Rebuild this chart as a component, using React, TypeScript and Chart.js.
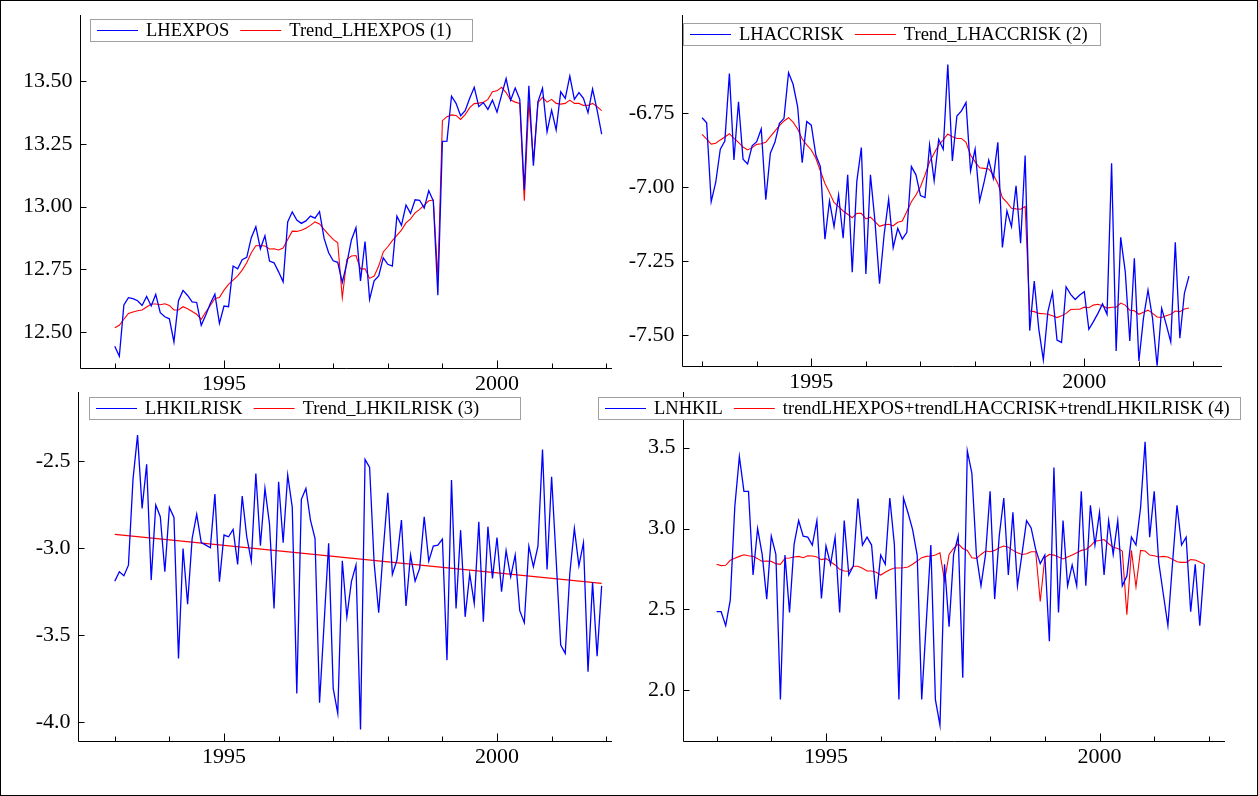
import React, { useEffect, useRef } from "react";
import { Chart, registerables } from "chart.js";
Chart.register(...registerables);

const W = 1258;
const H = 796;
const FONT = '"Liberation Serif", "Times New Roman", serif';
const BLUE = "#0000ff";
const RED = "#ff0000";

// monthly observations 1993:1 .. 2001:12
const months: number[] = Array.from({ length: 108 }, (_, i) => 1993 + i / 12);
const xTickYears = [1993, 1994, 1995, 1996, 1997, 1998, 1999, 2000, 2001, 2002];
const xLabelYears = [1995, 2000];

const lhexpos = [
  12.444, 12.404, 12.608, 12.637, 12.633, 12.625, 12.606, 12.642, 12.604, 12.65, 12.577, 12.561,
  12.553, 12.461, 12.625, 12.666, 12.646, 12.62, 12.618, 12.527, 12.568, 12.614, 12.651, 12.535,
  12.604, 12.601, 12.763, 12.752, 12.788, 12.798, 12.876, 12.92, 12.832, 12.884, 12.783, 12.776,
  12.74, 12.7, 12.939, 12.979, 12.946, 12.933, 12.943, 12.962, 12.954, 12.98, 12.873, 12.816,
  12.784, 12.778, 12.698, 12.774, 12.867, 12.916, 12.704, 12.861, 12.63, 12.704, 12.724, 12.796,
  12.77, 12.763, 12.962, 12.925, 13.006, 12.973, 13.027, 13.025, 12.994, 13.063, 13.023, 12.647,
  13.26, 13.261, 13.44, 13.411, 13.362, 13.382, 13.431, 13.475, 13.398, 13.414, 13.387, 13.424,
  13.376, 13.444, 13.51, 13.424, 13.472, 13.427, 13.066, 13.481, 13.163, 13.418, 13.471, 13.298,
  13.384, 13.305, 13.457, 13.431, 13.52, 13.427, 13.454, 13.431, 13.374, 13.468, 13.384, 13.289,
];
const trendLhexpos = [
  12.517, 12.527, 12.551, 12.574, 12.58, 12.585, 12.588, 12.6, 12.612, 12.612, 12.609, 12.613,
  12.606, 12.588, 12.588, 12.601, 12.593, 12.582, 12.571, 12.551, 12.58, 12.606, 12.634, 12.638,
  12.667, 12.69, 12.707, 12.724, 12.747, 12.776, 12.816, 12.844, 12.845, 12.843, 12.831, 12.832,
  12.827, 12.835, 12.869, 12.902, 12.901, 12.906, 12.914, 12.925, 12.939, 12.931, 12.909, 12.888,
  12.869, 12.856, 12.637, 12.79, 12.803, 12.805, 12.752, 12.752, 12.714, 12.723, 12.763, 12.819,
  12.84, 12.864, 12.885, 12.906, 12.935, 12.951, 12.975, 12.989, 13.006, 13.023, 13.026, 12.717,
  13.342, 13.358, 13.365, 13.363, 13.347, 13.366, 13.394, 13.41, 13.412, 13.415, 13.427, 13.457,
  13.461, 13.475, 13.454, 13.424, 13.416, 13.411, 13.023, 13.418, 13.18, 13.414, 13.435, 13.416,
  13.427, 13.411, 13.408, 13.411, 13.424, 13.411, 13.411, 13.403, 13.403, 13.411, 13.398, 13.382,
];
const lhaccrisk = [
  -6.766, -6.783, -7.05, -6.984, -6.872, -6.845, -6.617, -6.909, -6.712, -6.906, -6.922, -6.861,
  -6.847, -6.804, -7.043, -6.886, -6.849, -6.785, -6.768, -6.614, -6.653, -6.729, -6.918, -6.779,
  -6.791, -6.892, -6.931, -7.176, -7.047, -7.134, -7.027, -7.173, -6.959, -7.288, -6.982, -6.867,
  -7.294, -6.959, -7.117, -7.327, -7.162, -7.041, -7.205, -7.14, -7.176, -7.153, -6.931, -6.959,
  -7.029, -7.036, -6.858, -6.979, -6.839, -6.873, -6.586, -6.912, -6.76, -6.743, -6.715, -6.946,
  -6.872, -7.047, -6.982, -6.909, -6.971, -6.849, -7.204, -7.081, -7.134, -6.996, -7.19, -6.894,
  -7.485, -7.318, -7.48, -7.584, -7.421, -7.356, -7.517, -7.525, -7.337, -7.363, -7.38, -7.365,
  -7.354, -7.481, -7.455, -7.427, -7.395, -7.43, -6.92, -7.554, -7.17, -7.286, -7.52, -7.241,
  -7.588, -7.444, -7.348, -7.444, -7.604, -7.41, -7.464, -7.523, -7.187, -7.511, -7.359, -7.301,
];
const trendLhaccrisk = [
  -6.822, -6.838, -6.855, -6.852, -6.841, -6.831, -6.82, -6.836, -6.849, -6.865, -6.875, -6.867,
  -6.856, -6.854, -6.849, -6.83, -6.811, -6.793, -6.777, -6.766, -6.781, -6.804, -6.838, -6.858,
  -6.875, -6.903, -6.946, -6.988, -7.019, -7.052, -7.066, -7.081, -7.092, -7.104, -7.089, -7.089,
  -7.108, -7.102, -7.117, -7.133, -7.128, -7.126, -7.131, -7.119, -7.115, -7.083, -7.05, -7.027,
  -6.999, -6.959, -6.915, -6.886, -6.858, -6.841, -6.821, -6.83, -6.836, -6.836, -6.849, -6.892,
  -6.915, -6.935, -6.937, -6.939, -6.959, -6.988, -7.036, -7.052, -7.072, -7.074, -7.075, -7.066,
  -7.419, -7.421, -7.427, -7.428, -7.43, -7.435, -7.441, -7.435, -7.427, -7.414, -7.413, -7.413,
  -7.406, -7.408, -7.399, -7.396, -7.401, -7.409, -7.406, -7.406, -7.392, -7.399, -7.416, -7.418,
  -7.43, -7.423, -7.416, -7.427, -7.439, -7.441, -7.435, -7.43, -7.419, -7.421, -7.412, -7.409,
];
const lhkilrisk = [
  -3.19, -3.136, -3.159, -3.098, -2.605, -2.351, -2.772, -2.519, -3.184, -2.753, -2.82, -3.136,
  -2.766, -2.824, -3.634, -3.002, -3.322, -2.944, -2.806, -2.969, -2.983, -2.998, -2.69, -3.193,
  -2.925, -2.935, -2.893, -3.094, -2.701, -2.935, -3.075, -2.571, -2.987, -2.657, -2.862, -3.347,
  -2.619, -2.969, -2.58, -2.766, -3.835, -2.72, -2.657, -2.839, -2.944, -3.889, -3.433, -2.973,
  -3.806, -3.95, -3.073, -3.395, -3.193, -3.098, -4.042, -2.49, -2.536, -3.088, -3.372, -3.011,
  -2.682, -3.151, -3.069, -2.839, -3.333, -3.04, -3.19, -3.117, -2.82, -3.075, -2.989, -2.983,
  -2.948, -3.644, -2.609, -3.347, -2.897, -3.395, -3.149, -3.318, -2.849, -3.423, -2.877, -3.174,
  -2.939, -3.251, -3.015, -3.165, -3.04, -3.36, -3.429, -2.989, -3.107, -2.989, -2.433, -3.123,
  -2.59, -3.069, -3.557, -3.605, -3.146, -2.887, -3.102, -2.969, -3.711, -3.197, -3.621, -3.217,
];
// linear trend: first and last observation
const trendLhkilriskEnds = [-2.921, -3.203];
const lnhkil = [
  2.486, 2.486, 2.4, 2.558, 3.137, 3.445, 3.23, 3.23, 2.713, 3.0, 2.84, 2.564,
  2.953, 2.84, 1.943, 2.836, 2.482, 2.902, 3.049, 2.953, 2.947, 2.898, 3.049, 2.568,
  2.892, 2.779, 2.947, 2.482, 3.049, 2.713, 2.769, 3.185, 2.898, 2.947, 2.898, 2.564,
  2.836, 2.779, 3.189, 2.902, 1.943, 3.189, 3.096, 2.994, 2.836, 1.943, 2.42, 2.898,
  1.943, 1.785, 2.779, 2.394, 2.84, 2.953, 2.078, 3.48, 3.342, 2.836, 2.646, 2.84,
  3.23, 2.564, 2.953, 3.189, 2.713, 3.1, 2.646, 2.844, 3.049, 3.004, 2.871, 2.783,
  2.836, 2.303, 3.377, 2.482, 3.049, 2.646, 2.775, 2.646, 3.23, 2.646, 3.144, 2.898,
  3.1, 2.713, 3.049, 2.84, 3.049, 2.646, 2.707, 2.947, 2.898, 3.127, 3.537, 2.947,
  3.23, 2.789, 2.594, 2.4, 2.779, 3.144, 2.898, 2.947, 2.486, 2.779, 2.4, 2.779,
];
const trendSum = [
  2.779, 2.771, 2.773, 2.804, 2.816, 2.828, 2.838, 2.832, 2.828, 2.814, 2.797, 2.799,
  2.797, 2.783, 2.779, 2.816, 2.818, 2.824, 2.828, 2.82, 2.832, 2.83, 2.824, 2.808,
  2.814, 2.795, 2.775, 2.748, 2.738, 2.736, 2.767, 2.767, 2.754, 2.738, 2.738, 2.73,
  2.713, 2.73, 2.746, 2.756, 2.756, 2.758, 2.762, 2.779, 2.799, 2.82, 2.828, 2.83,
  2.836, 2.85, 2.676, 2.84, 2.877, 2.906, 2.877, 2.865, 2.82, 2.816, 2.84, 2.861,
  2.857, 2.865, 2.881, 2.892, 2.885, 2.865, 2.85, 2.84, 2.844, 2.857, 2.857, 2.549,
  2.82, 2.84, 2.836, 2.824, 2.812, 2.824, 2.836, 2.85, 2.865, 2.871, 2.892, 2.922,
  2.926, 2.932, 2.906, 2.885, 2.877, 2.861, 2.467, 2.865, 2.64, 2.865, 2.861, 2.836,
  2.832, 2.824, 2.828, 2.824, 2.81, 2.795, 2.791, 2.791, 2.808, 2.806, 2.793, 2.779,
];

const yTicks1 = [12.5, 12.75, 13.0, 13.25, 13.5];
const yTicks2 = [-7.5, -7.25, -7.0, -6.75];
const yTicks3 = [-4.0, -3.5, -3.0, -2.5];
const yTicks4 = [2.0, 2.5, 3.0, 3.5];

const monthly = (vals: number[]) => vals.map((v, i) => ({ x: months[i], y: v }));

type Series = { label: string; color: string; width: number; points: { x: number; y: number }[] };
type Panel = {
  area: [number, number, number, number];
  xr: [number, number];
  yr: [number, number];
  yTicks: number[];
  dec: number;
  legendBox: [number, number, number];
  series: Series[];
};

const panels: Panel[] = [
  {
    area: [80, 15, 612, 368],
    xr: [1992.363, 2002.106],
    yr: [12.357, 13.763],
    yTicks: yTicks1,
    dec: 2,
    legendBox: [90, 19, 382],
    series: [
      { label: "LHEXPOS", color: BLUE, width: 1.3, points: monthly(lhexpos) },
      { label: "Trend_LHEXPOS (1)", color: RED, width: 1.1, points: monthly(trendLhexpos) },
    ],
  },
  {
    area: [682, 15, 1222, 366],
    xr: [1992.632, 2002.522],
    yr: [-7.6047, -6.419],
    yTicks: yTicks2,
    dec: 2,
    legendBox: [683, 23, 417],
    series: [
      { label: "LHACCRISK", color: BLUE, width: 1.3, points: monthly(lhaccrisk) },
      { label: "Trend_LHACCRISK (2)", color: RED, width: 1.1, points: monthly(trendLhaccrisk) },
    ],
  },
  {
    area: [78, 392, 612, 741],
    xr: [1992.326, 2002.106],
    yr: [-4.1087, -2.103],
    yTicks: yTicks3,
    dec: 1,
    legendBox: [89, 397, 431],
    series: [
      { label: "LHKILRISK", color: BLUE, width: 1.3, points: monthly(lhkilrisk) },
      {
        label: "Trend_LHKILRISK (3)",
        color: RED,
        width: 1.1,
        points: [
          { x: months[0], y: trendLhkilriskEnds[0] },
          { x: months[months.length - 1], y: trendLhkilriskEnds[1] },
        ],
      },
    ],
  },
  {
    area: [683, 392, 1225, 741],
    xr: [1992.386, 2002.294],
    yr: [1.6869, 3.844],
    yTicks: yTicks4,
    dec: 1,
    legendBox: [598, 397, 642],
    series: [
      { label: "LNHKIL", color: BLUE, width: 1.3, points: monthly(lnhkil) },
      {
        label: "trendLHEXPOS+trendLHACCRISK+trendLHKILRISK (4)",
        color: RED,
        width: 1.1,
        points: monthly(trendSum),
      },
    ],
  },
];

const oxPlugin = {
  id: "ox",
  beforeDatasetsDraw(chart: any, _args: any, opts: any) {
    const { ctx, chartArea: a } = chart;
    const xs = chart.scales.x;
    const ys = chart.scales.y;
    ctx.save();
    ctx.strokeStyle = "#000";
    ctx.lineWidth = 1;
    const L = Math.round(a.left) + 0.5;
    const B = Math.round(a.bottom) + 0.5;
    ctx.beginPath();
    ctx.moveTo(L, Math.round(a.top));
    ctx.lineTo(L, B);
    ctx.lineTo(Math.round(a.right), B);
    ctx.stroke();
    ctx.beginPath();
    for (const yr of xTickYears) {
      const px = Math.round(xs.getPixelForValue(yr)) + 0.5;
      const len = xLabelYears.includes(yr) ? 8 : 5;
      ctx.moveTo(px, B);
      ctx.lineTo(px, B - len);
    }
    for (const v of opts.yTicks) {
      const py = Math.round(ys.getPixelForValue(v)) + 0.5;
      ctx.moveTo(L, py);
      ctx.lineTo(L + 6, py);
    }
    ctx.stroke();
    ctx.fillStyle = "#000";
    ctx.font = `22px ${FONT}`;
    ctx.textAlign = "center";
    ctx.textBaseline = "top";
    for (const yr of xLabelYears) {
      ctx.fillText(String(yr), xs.getPixelForValue(yr), B + 5);
    }
    ctx.textAlign = "right";
    ctx.textBaseline = "middle";
    for (const v of opts.yTicks) {
      ctx.fillText(v.toFixed(opts.dec), L - 8, ys.getPixelForValue(v));
    }
    ctx.restore();
  },
  afterDraw(chart: any, _args: any, opts: any) {
    const { ctx } = chart;
    const [lx, ly, w] = opts.legendBox;
    const h = 22;
    ctx.save();
    ctx.font = `18.5px ${FONT}`;
    let x = lx + 7;
    const items: { text: string; color: string; x0: number; tx: number }[] = [];
    for (const s of opts.series) {
      const x0 = x;
      const tx = x0 + 41 + 8;
      items.push({ text: s.label, color: s.color, x0, tx });
      x = tx + ctx.measureText(s.label).width + 11;
    }
    ctx.fillStyle = "#fff";
    ctx.fillRect(lx, ly, w, h);
    ctx.strokeStyle = "#a0a0a0";
    ctx.lineWidth = 1;
    ctx.strokeRect(lx + 0.5, ly + 0.5, w, h);
    const cy = ly + h / 2 + 0.5;
    for (const it of items) {
      ctx.strokeStyle = it.color;
      ctx.lineWidth = 1.2;
      ctx.beginPath();
      ctx.moveTo(it.x0, cy);
      ctx.lineTo(it.x0 + 41, cy);
      ctx.stroke();
      ctx.fillStyle = "#000";
      ctx.textAlign = "left";
      ctx.textBaseline = "middle";
      ctx.fillText(it.text, it.tx, cy + 1);
    }
    ctx.restore();
  },
};

function PanelChart({ p }: { p: Panel }) {
  const ref = useRef<HTMLCanvasElement | null>(null);
  useEffect(() => {
    if (!ref.current) return;
    const chart = new Chart(ref.current, {
      type: "line",
      data: {
        datasets: p.series.map((s) => ({
          label: s.label,
          data: s.points,
          borderColor: s.color,
          borderWidth: s.width,
          pointRadius: 0,
          tension: 0,
          fill: false,
        })),
      },
      options: {
        animation: false,
        responsive: false,
        maintainAspectRatio: false,
        events: [],
        layout: {
          padding: { left: p.area[0], top: p.area[1], right: W - p.area[2], bottom: H - p.area[3] },
        },
        scales: {
          x: { type: "linear", min: p.xr[0], max: p.xr[1], display: false },
          y: { type: "linear", min: p.yr[0], max: p.yr[1], display: false },
        },
        plugins: {
          legend: { display: false },
          tooltip: { enabled: false },
          ox: { yTicks: p.yTicks, dec: p.dec, legendBox: p.legendBox, series: p.series },
        } as any,
      },
      plugins: [oxPlugin as any],
    });
    return () => chart.destroy();
  }, [p]);
  return (
    <canvas
      ref={ref}
      width={W}
      height={H}
      style={{ position: "absolute", left: 0, top: 0, width: W, height: H }}
    />
  );
}

export default function App() {
  return (
    <div
      style={{
        position: "absolute",
        left: 0,
        top: 0,
        width: W,
        height: H,
        background: "#fff",
        overflow: "hidden",
      }}
    >
      {panels.map((p, i) => (
        <PanelChart key={i} p={p} />
      ))}
      <div
        style={{
          position: "absolute",
          left: 0,
          top: 0,
          width: W,
          height: H,
          boxSizing: "border-box",
          border: "1px solid #000",
          pointerEvents: "none",
        }}
      />
    </div>
  );
}
